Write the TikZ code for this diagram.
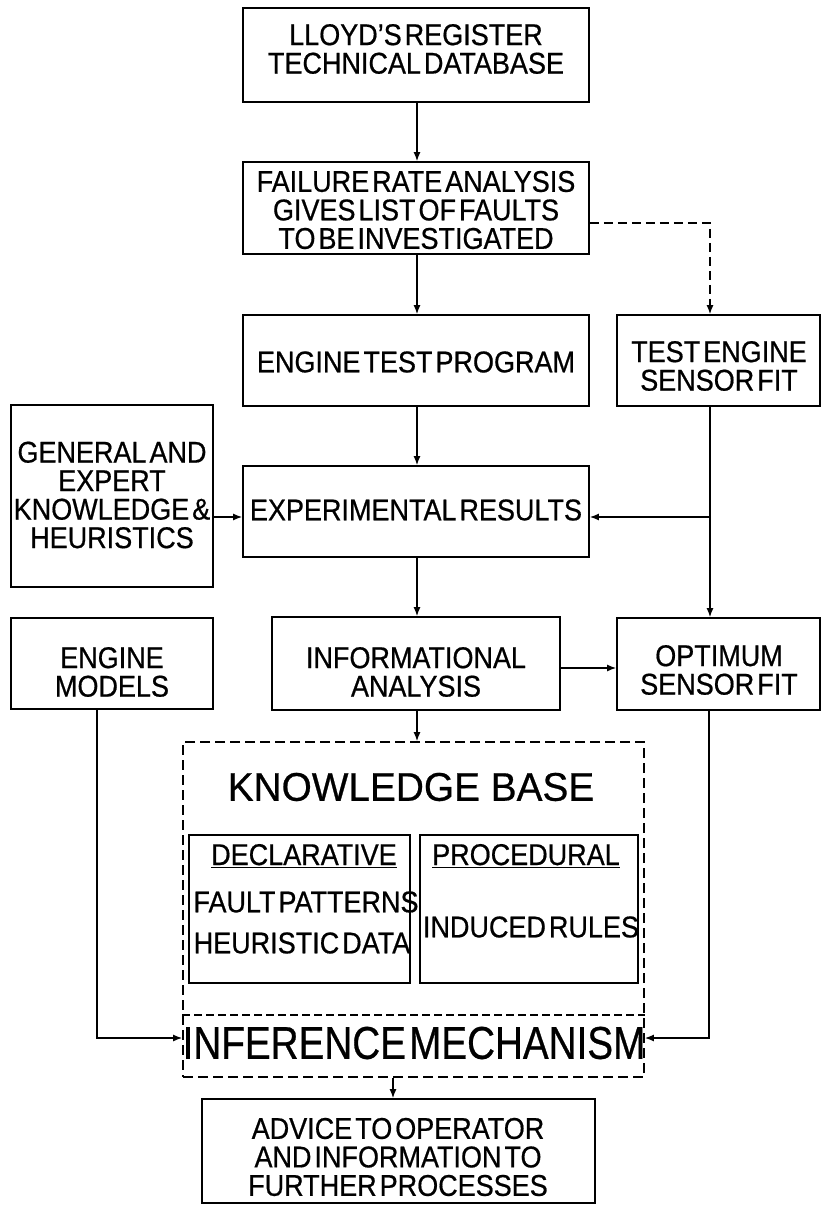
\documentclass[tikz,border=0pt]{standalone}
\usepackage{fontspec}
\setmainfont[FakeStretch=0.9,WordSpace=0.4,FakeBold=0.6]{Liberation Sans}
\newfontfamily\kbfont[FakeStretch=0.97,FakeBold=0.6]{Liberation Sans}
\newfontfamily\inffont[FakeStretch=0.84,WordSpace=0.3,FakeBold=0.6]{Liberation Sans}
\usetikzlibrary{arrows.meta}
\newcommand\mybox[6][box]{\node[#1, minimum width={#5-#3}, minimum height={#6-#4}] (#2) at ({(#3+#5)/2},{(#4+#6)/2}) {};}
\tikzset{
  box/.style={draw, line width=1.8pt, rectangle, inner sep=0pt},
  kbbox/.style={draw, line width=1.8pt, rectangle, inner sep=0pt, dash pattern=on 10pt off 5pt},
  txt/.style={align=center, inner sep=0pt, font=\fontsize{30}{28.5}\selectfont},
  con/.style={line width=1.3pt, -{Latex[length=9pt,width=7pt]}},
  dcon/.style={con, dash pattern=on 9pt off 5pt},
  sep/.style={line width=1.6pt, dash pattern=on 8pt off 4pt},
}
\begin{document}
\begin{tikzpicture}[x=1pt,y=-1pt]
\useasboundingbox (0,0) rectangle (823,1206);
% boxes
\mybox{lloyd}{243}{8}{589}{102}
\mybox{failure}{243}{162}{589}{254}
\mybox{enginetest}{243}{315}{589}{406}
\mybox{testengine}{617}{315}{820}{406}
\mybox{general}{11}{405}{213}{587}
\mybox{experimental}{243}{466}{589}{557}
\mybox{models}{11}{618}{213}{709}
\mybox{info}{272}{617}{560}{710}
\mybox{optimum}{617}{618}{820}{710}
\mybox[kbbox]{kb}{183}{742}{644}{1077}
\mybox{decl}{189}{835}{410}{983}
\mybox{proc}{420}{835}{638}{983}
\mybox{advice}{202}{1099}{595}{1203}
% texts
\node[txt] (lloydt) at (416,49) {LLOYD'S REGISTER\\TECHNICAL DATABASE};
\node[txt] (failuret) at (416,210) {FAILURE RATE ANALYSIS\\GIVES LIST OF FAULTS\\TO BE INVESTIGATED};
\node[txt] (enginetestt) at (416,362) {ENGINE TEST PROGRAM};
\node[txt] (testenginet) at (719,366) {TEST ENGINE\\SENSOR FIT};
\node[txt] (generalt) at (112,495) {GENERAL AND\\EXPERT\\KNOWLEDGE \&\\HEURISTICS};
\node[txt] (experimentalt) at (416,510) {EXPERIMENTAL RESULTS};
\node[txt] (modelst) at (112,672) {ENGINE\\MODELS};
\node[txt] (infot) at (416,672) {INFORMATIONAL\\ANALYSIS};
\node[txt] (optimumt) at (719,670) {OPTIMUM\\SENSOR FIT};
\node[inner sep=0pt, font=\kbfont\fontsize{40}{42}\selectfont] (kbt) at (411,787) {KNOWLEDGE BASE};
\node[txt, anchor=base] (declt) at (304,865) {\underline{DECLARATIVE}};
\node[txt, anchor=base] (proct) at (526,865) {\underline{PROCEDURAL}};
\node[txt] (faultt) at (306,902) {FAULT PATTERNS};
\node[txt] (heurt) at (302,943) {HEURISTIC DATA};
\node[txt] (rulest) at (531,927) {INDUCED RULES};
\node[inner sep=0pt, font=\inffont\fontsize{46}{48}\selectfont] (inft) at (414,1043) {INFERENCE MECHANISM};
\node[txt] (advicet) at (398,1157) {ADVICE TO OPERATOR\\AND INFORMATION TO\\FURTHER PROCESSES};
% helper coordinates
\coordinate (j) at (710,517);
\coordinate (r2) at (0,668);
\coordinate (m) at (97,1038);
\coordinate (o) at (709,1038);
\coordinate (a) at (393,1088);
\coordinate (s) at (0,1015);
\coordinate (d) at (710,223);
\coordinate (ik) at (417,0);
% connectors
\draw[con] (lloyd.south -| ik) -- (failure.north -| ik);
\draw[con] (failure.south -| ik) -- (enginetest.north -| ik);
\draw[dcon] (failure.east |- d) -| (testengine.north -| d);
\draw[con] (enginetest.south -| ik) -- (experimental.north -| ik);
\draw[con] (testengine.south -| j) -- (optimum.north -| j);
\draw[con] (j) -- (experimental.east |- j);
\draw[con] (general.east |- j) -- (experimental.west |- j);
\draw[con] (experimental.south -| ik) -- (info.north -| ik);
\draw[con] (info.east |- r2) -- (optimum.west |- r2);
\draw[con] (info.south -| ik) -- (kb.north -| ik);
\draw[con] (models.south -| m) |- (kb.west |- m);
\draw[con] (optimum.south -| o) |- (kb.east |- o);
\draw[con] (kb.south -| a) -- (advice.north -| a);
\draw[sep] (kb.west |- s) -- (kb.east |- s);
\end{tikzpicture}
\end{document}
